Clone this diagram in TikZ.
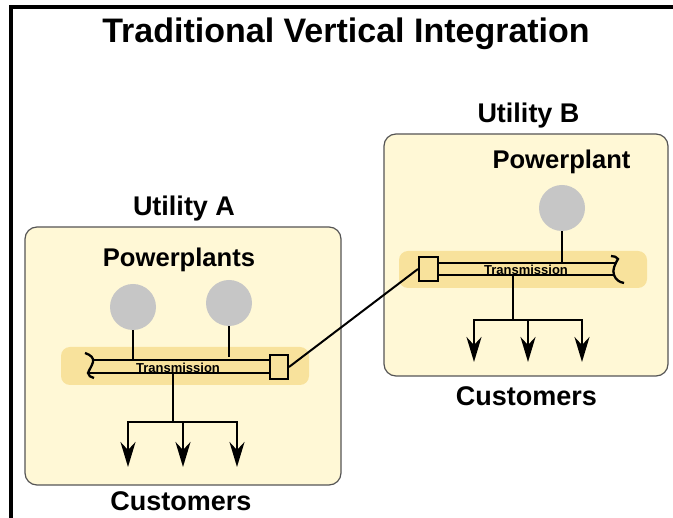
\documentclass[tikz,border=0pt]{standalone}
\usepackage{fontspec}
\setmainfont{Liberation Sans}
\usetikzlibrary{arrows.meta}
\definecolor{boxfill}{HTML}{FFF8D6}
\definecolor{bandfill}{HTML}{F8E29C}
\definecolor{plantgray}{HTML}{C6C6C6}
\definecolor{boxedge}{HTML}{555555}

\begin{document}
\begin{tikzpicture}[x=1pt,y=-1pt,
  utility/.style={draw=boxedge, line width=1.2pt, fill=boxfill, rounded corners=12pt, inner sep=0pt},
  band/.style={fill=bandfill, rounded corners=9pt, inner sep=0pt},
  plant/.style={circle, fill=plantgray, minimum size=46pt, inner sep=0pt},
  joint/.style={draw, line width=2pt, fill=bandfill, minimum width=18pt, minimum height=24pt, inner sep=0pt},
  wire/.style={line width=2.5pt},
  feed/.style={line width=2.5pt, -{Stealth[length=25pt,width=15pt,inset=8pt]}},
  title/.style={font=\bfseries\fontsize{34}{38}\selectfont, inner sep=0pt, anchor=base},
  heading/.style={font=\bfseries\fontsize{27}{30}\selectfont, inner sep=0pt, anchor=base},
  subheading/.style={font=\bfseries\fontsize{25.6}{29}\selectfont, inner sep=0pt, anchor=base},
  pipelabel/.style={font=\bfseries\fontsize{13}{15}\selectfont, inner sep=0pt, anchor=base}
]
\useasboundingbox (0,0) rectangle (673,518);
\fill[white] (0,0) rectangle (673,518);

% frame
\draw[line width=4pt] (11.3,518) -- (11.3,7) -- (673,7);

% title
\node[title] (ttl) at (346,43) {Traditional Vertical Integration};

% ---------- Utility A ----------
\node[utility, minimum width=316pt, minimum height=258pt] (boxA) at (183,356) {};
\node[heading] (labA) at (184,216) {Utility A};
\node[subheading] (ppA) at (179,267) {Powerplants};
\node[band, minimum width=248pt, minimum height=38pt] (bandA) at (185,366) {};
\node[plant] (plA1) at (133,307) {};
\node[plant] (plA2) at (229,303) {};
\node[joint] (jA) at (279,367) {};

\coordinate (aTopL) at (93,360);
\coordinate (aBotL) at (88,373);
\draw[wire] (aTopL) -- (aTopL -| jA.west);
\draw[wire] (aBotL) -- (aBotL -| jA.west);
\draw[line width=2.3pt] (85,353) .. controls (91,355) and (94,358) .. (93,362)
  .. controls (92,366) and (89,370) .. (88,373)
  .. controls (88,376) and (91,377) .. (94,378);
\draw[wire] (plA1.south) -- (plA1.south |- aTopL);
\draw[wire] (plA2.south) -- (229,357);
\node[pipelabel] (trA) at (178,372.5) {Transmission};

\coordinate (aTap) at (173,373);
\coordinate (aHub) at (173,422);
\coordinate (aL) at (128,422);
\coordinate (aR) at (237,422);
\coordinate (aC) at (183,422);
\coordinate (aOut1) at (128,467);
\coordinate (aOut2) at (183,467);
\coordinate (aOut3) at (237,467);
\draw[wire] (aTap) -- (aHub);
\draw[wire, line cap=rect] (aL) -- (aR);
\draw[feed] (aL) -- (aOut1);
\draw[feed] (aC) -- (aOut2);
\draw[feed] (aR) -- (aOut3);
\node[heading] (custA) at (181,511) {Customers};

% ---------- Utility B ----------
\node[utility, minimum width=284pt, minimum height=242pt] (boxB) at (526,255) {};
\node[heading] (labB) at (528.5,123) {Utility B};
\node[subheading] (ppB) at (561.5,169) {Powerplant};
\node[band, minimum width=248pt, minimum height=37pt] (bandB) at (523,269.5) {};
\node[plant] (plB) at (562,208) {};
\node[joint, minimum width=19pt] (jB) at (428.5,269) {};

\coordinate (bTopR) at (617,263);
\coordinate (bBotR) at (614,275);
\draw[wire] (jB.east |- bTopR) -- (bTopR);
\draw[wire] (jB.east |- bBotR) -- (bBotR);
\draw[line width=2.3pt] (611,256) .. controls (614,256) and (617,257) .. (618,259)
  .. controls (615,264) and (612,270) .. (614,275)
  .. controls (616,280) and (619,282) .. (624,283);
\draw[wire] (plB.south) -- (plB.south |- bTopR);
\node[pipelabel] (trB) at (526,274.5) {Transmission};

\coordinate (bTap) at (513,275);
\coordinate (bHub) at (513,320);
\coordinate (bL) at (474,320);
\coordinate (bR) at (582,320);
\coordinate (bC) at (528,320);
\coordinate (bOut1) at (474,362);
\coordinate (bOut2) at (528,362);
\coordinate (bOut3) at (582,362);
\draw[wire] (bTap) -- (bHub);
\draw[wire, line cap=rect] (bL) -- (bR);
\draw[feed] (bL) -- (bOut1);
\draw[feed] (bC) -- (bOut2);
\draw[feed] (bR) -- (bOut3);
\node[heading] (custB) at (526.5,406) {Customers};

% interconnection between the two utilities
\draw[line width=2pt] (jA.east) -- (jB.west);
\end{tikzpicture}
\end{document}
